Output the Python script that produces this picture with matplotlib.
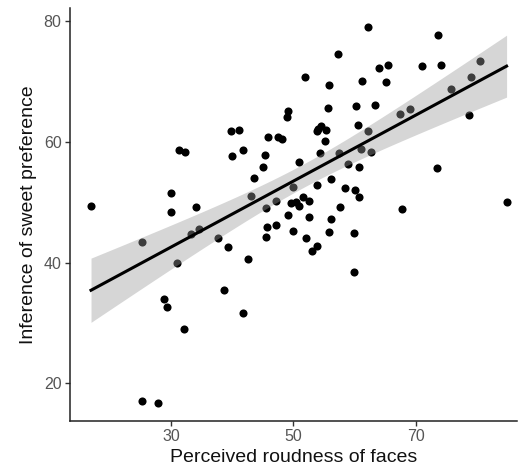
import numpy as np
import matplotlib
matplotlib.use("Agg")
import matplotlib.pyplot as plt

plt.rcParams['font.family'] = ['Liberation Sans', 'DejaVu Sans']

# perceived roundness (x) and inferred sweet preference (y)
roundness = [16.9, 25.3, 25.3, 27.9, 28.9, 29.4, 30.0, 30.0, 30.9, 31.3,
             32.3, 32.1, 33.2, 34.6, 34.1, 37.6, 38.7, 39.3, 39.8, 41.1,
             40.0, 41.8, 41.8, 42.6, 43.0, 43.5, 45.1, 45.3, 45.8, 45.6,
             45.7, 45.6, 47.2, 47.2, 47.5, 48.1, 48.9, 49.1, 49.1, 49.9,
             49.6, 50.5, 51.6, 52.5, 51.0, 50.0, 51.0, 51.9, 52.0, 52.5,
             53.0, 53.9, 53.9, 53.8, 54.0, 54.6, 55.3, 54.3, 55.2, 55.6,
             55.9, 55.8, 56.1, 56.2, 57.3, 57.5, 57.6, 58.4, 58.9, 59.9,
             59.9, 60.1, 60.7, 60.2, 60.6, 60.8, 61.1, 61.3, 62.2, 62.2,
             62.7, 63.3, 64.0, 65.1, 65.5, 67.5, 67.8, 69.1, 71.0, 73.5,
             73.6, 74.1, 75.8, 78.7, 79.1, 80.6, 84.9]
sweet = [49.4, 43.4, 17.0, 16.7, 33.9, 32.6, 51.5, 48.4, 39.9, 58.6,
         58.4, 28.9, 44.8, 45.6, 49.2, 44.1, 35.4, 42.6, 61.8, 61.9,
         57.6, 58.7, 31.6, 40.5, 51.0, 54.0, 55.8, 57.8, 60.8, 49.1,
         45.9, 44.3, 46.2, 50.2, 60.8, 60.4, 64.2, 65.2, 47.8, 52.5,
         49.9, 50.0, 50.9, 50.2, 49.3, 45.3, 56.6, 70.7, 44.0, 47.5,
         41.9, 42.7, 52.9, 61.8, 62.2, 62.6, 62.0, 58.1, 60.1, 65.6,
         69.4, 45.0, 53.8, 47.2, 74.5, 58.2, 49.2, 52.3, 56.4, 44.9,
         38.5, 52.1, 50.9, 65.9, 62.8, 55.8, 58.8, 70.1, 79.1, 61.8,
         58.4, 66.1, 72.3, 69.9, 72.7, 64.6, 48.8, 65.5, 72.5, 55.7,
         77.8, 72.8, 68.7, 64.5, 70.7, 73.4, 50.0]

x = np.array(roundness)
y = np.array(sweet)

# linear fit with 95% confidence band (like geom_smooth(method = "lm"))
n = len(x)
b1, b0 = np.polyfit(x, y, 1)
resid = y - (b0 + b1 * x)
s = np.sqrt(np.sum(resid ** 2) / (n - 2))
xs = np.linspace(x.min(), x.max(), 200)
ys = b0 + b1 * xs
se = s * np.sqrt(1 / n + (xs - x.mean()) ** 2 / np.sum((x - x.mean()) ** 2))
t = 1.985
lo = ys - t * se
hi = ys + t * se

fig = plt.figure(figsize=(5.18, 4.70), dpi=100)
ax = fig.add_axes([0.135, 0.104, 0.863, 0.879])

ax.scatter(x, y, s=34, color='black', linewidths=0, zorder=2)
ax.fill_between(xs, lo, hi, color='#999999', alpha=0.4, linewidth=0, zorder=3)
ax.plot(xs, ys, color='black', linewidth=2.2, zorder=4)

ax.set_xlim(13.45, 86.6)
ax.set_ylim(13.7, 82.2)
ax.set_xticks([30, 50, 70])
ax.set_yticks([20, 40, 60, 80])

for side in ['top', 'right']:
    ax.spines[side].set_visible(False)
for side in ['left', 'bottom']:
    ax.spines[side].set_linewidth(1.1)
    ax.spines[side].set_color('#222222')

ax.tick_params(axis='both', length=3.5, width=1.0, color='#333333',
               labelsize=11.5, labelcolor='#555555', pad=2.5)

ax.set_xlabel('Perceived roudness of faces', fontsize=14, color='#111111', labelpad=3)
ax.set_ylabel('Inference of sweet preference', fontsize=14, color='#111111', labelpad=5)

fig.savefig('out.png', dpi=100)
